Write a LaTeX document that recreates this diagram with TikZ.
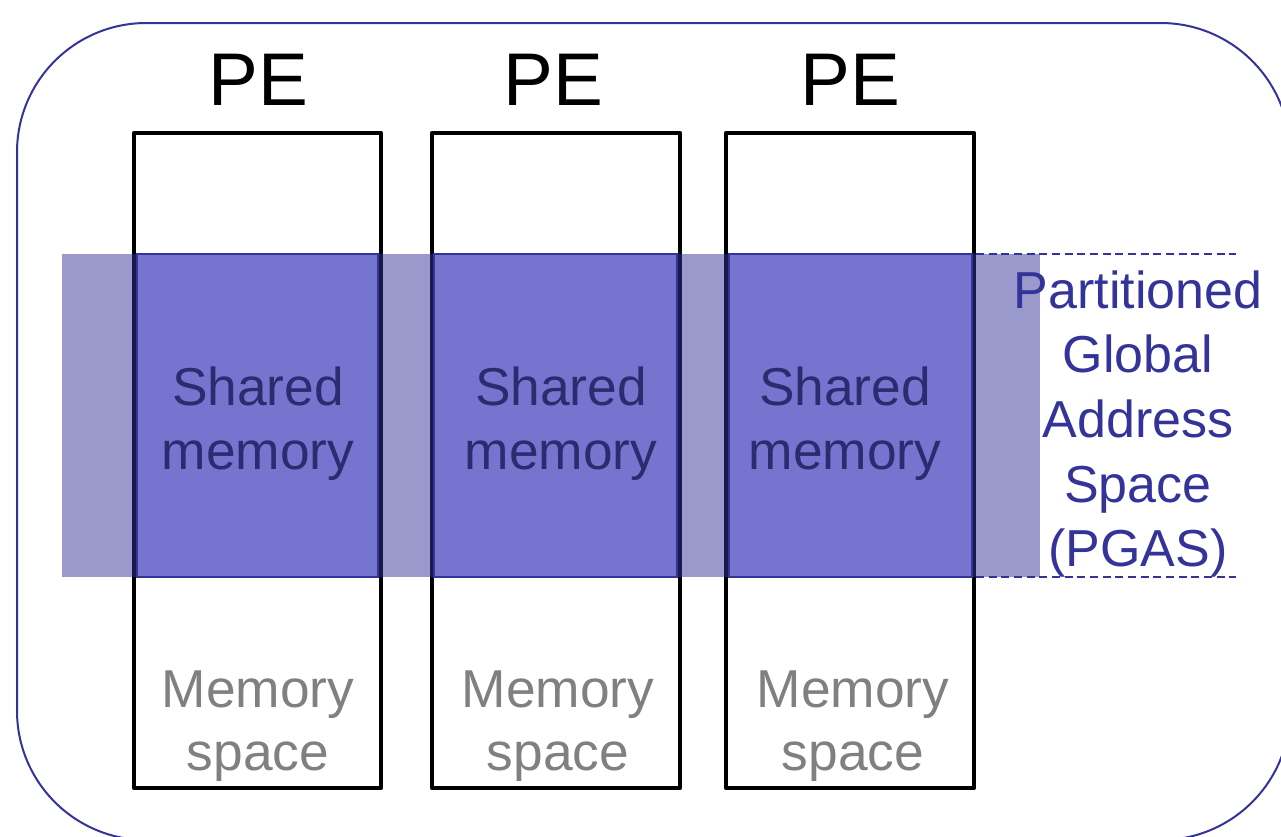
\documentclass[tikz,border=0pt]{standalone}
\usepackage{fontspec}
\setmainfont{Liberation Sans}
\usepackage{xcolor}
\usetikzlibrary{positioning}

\definecolor{pgasblue}{HTML}{333399}
\definecolor{sharedfill}{HTML}{7575CF}
\definecolor{sharedtext}{HTML}{2B2B70}
\definecolor{memgray}{HTML}{808080}

\begin{document}
\begin{tikzpicture}[x=0.75pt,y=-0.75pt,
  pecol/.style={draw=black,line width=3.6pt,line join=round},
  shared/.style={draw=pgasblue,line width=1.2pt,fill=sharedfill},
  petext/.style={inner sep=0pt,font=\fontsize{56}{60}\selectfont},
  memtext/.style={inner sep=0pt,align=center,text=memgray,font=\fontsize{40}{47.5}\selectfont},
  shtext/.style={inner sep=0pt,align=center,text=sharedtext,font=\fontsize{40}{48}\selectfont},
  bound/.style={pgasblue,line width=1pt,dash pattern=on 6pt off 3.5pt}
]
\useasboundingbox (0,0) rectangle (1281,836);
\clip (0,0) rectangle (1281,836);

% machine outline
\draw[pgasblue,line width=1.5pt,rounded corners=97pt] (17,23) rectangle (1290,840);

% processing elements
\draw[pecol] (134,133) rectangle (381,788);
\draw[pecol] (432,133) rectangle (680,788);
\draw[pecol] (726,133) rectangle (974,788);

% global address band
\fill[pgasblue,opacity=0.5] (62,254) rectangle (1040,577);
\draw[bound] (976,254) -- (1236,254);
\draw[bound] (976,577) -- (1236,577);

% local partitions
\draw[shared] (137,254) rectangle (378,577);
\draw[shared] (434,254) rectangle (677,577);
\draw[shared] (729,254) rectangle (972,577);

% labels
\node[petext] (pe1) at (258,80) {PE};
\node[petext] (pe2) at (553,80) {PE};
\node[petext] (pe3) at (850,80) {PE};

\node[shtext] (sh1) at (258,424) {Shared\\memory};
\node[shtext] (sh2) at (561,424) {Shared\\memory};
\node[shtext] (sh3) at (845,424) {Shared\\memory};

\node[memtext] (mem1) at (258,726) {Memory\\space};
\node[memtext] (mem2) at (558,726) {Memory\\space};
\node[memtext] (mem3) at (853,726) {Memory\\space};

\node[shtext,text=pgasblue,font=\fontsize{39}{48.5}\selectfont] (pgas) at (1138,424)
  {Partitioned\\Global\\Address\\Space\\(PGAS)};
\end{tikzpicture}
\end{document}
